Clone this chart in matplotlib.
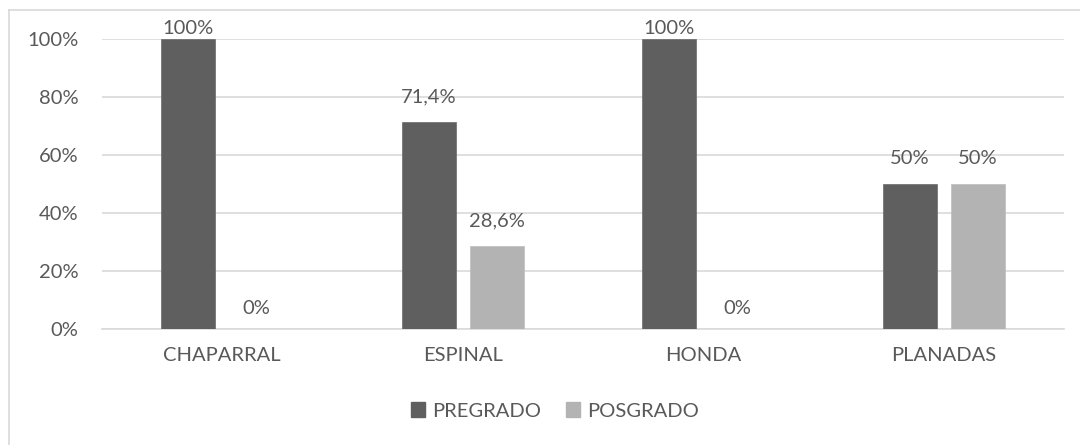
import matplotlib
matplotlib.use("Agg")
import matplotlib.pyplot as plt
from matplotlib.lines import Line2D
from matplotlib.patches import Patch
import numpy as np

categories = ["CHAPARRAL", "ESPINAL", "HONDA", "PLANADAS"]
pregrado = [100, 71.4, 100, 50]
posgrado = [0, 28.6, 0, 50]
pregrado_labels = ["100%", "71,4%", "100%", "50%"]
posgrado_labels = ["0%", "28,6%", "0%", "50%"]
yticks = [0, 20, 40, 60, 80, 100]
ytick_labels = ["0%", "20%", "40%", "60%", "80%", "100%"]

plt.rcParams['font.family'] = ['Lato', 'DejaVu Sans']
TXT = "#595959"
C_PRE = "#5f5f5f"
C_POS = "#b3b3b3"
GRID = "#d9d9d9"
FS = 14.5

W, H = 1080, 445
fig = plt.figure(figsize=(W/100, H/100), dpi=100)
ax = fig.add_axes([102/W, 1-329/H, (1064-102)/W, 290/H])

x = np.arange(len(categories))
bw = 0.2245
gap = 0.058
off = (bw + gap) / 2
ax.bar(x - off, pregrado, bw, color=C_PRE, edgecolor="#6a6a6a", linewidth=0.5, zorder=3)
ax.bar(x + off, posgrado, bw, color=C_POS, edgecolor="#bdbdbd", linewidth=0.5, zorder=3)

ax.set_xlim(-0.5, len(categories) - 0.5)
ax.set_ylim(0, 100)
ax.set_yticks(yticks)
ax.set_yticklabels(ytick_labels)
ax.set_xticks(x)
ax.set_xticklabels(categories)
ax.tick_params(axis='both', length=0, labelsize=FS, colors=TXT)
ax.tick_params(axis='y', pad=17)
ax.tick_params(axis='x', pad=13)
ax.yaxis.grid(True, color=GRID, linewidth=1.2, zorder=0)
ax.set_axisbelow(True)
for s in ["top", "right", "left"]:
    ax.spines[s].set_visible(False)
ax.spines["bottom"].set_color(GRID)
ax.spines["bottom"].set_linewidth(1.2)

# data labels: center ~25px above bar top, clamped at top of plot
px_per_unit = 290 / 100
def label(xpos, val, txt):
    yc = val + 25 / px_per_unit
    yc = min(yc, 100 + 10 / px_per_unit)
    if val == 0:
        yc = 21 / px_per_unit
    ax.text(xpos, yc, txt, ha="center", va="center", fontsize=FS, color=TXT,
            clip_on=False, zorder=4)

for i in range(len(categories)):
    label(x[i] - off, pregrado[i], pregrado_labels[i])
    label(x[i] + off, posgrado[i], posgrado_labels[i])

handles = [Patch(facecolor=C_PRE, edgecolor=C_PRE), Patch(facecolor=C_POS, edgecolor=C_POS)]
leg = fig.legend(handles, ["PREGRADO", "POSGRADO"], loc="center",
                 bbox_to_anchor=(555/W, 1 - 411/H), ncol=2, frameon=False,
                 fontsize=FS, handlelength=0.7, handleheight=0.7,
                 handletextpad=0.35, columnspacing=1.2)
for t in leg.get_texts():
    t.set_color(TXT)

# outer chart frame (top and left edges visible)
fig.add_artist(Line2D([9/W, 1.0], [1-10/H, 1-10/H], transform=fig.transFigure,
                      color=GRID, linewidth=1.2))
fig.add_artist(Line2D([9/W, 9/W], [0, 1-10/H], transform=fig.transFigure,
                      color=GRID, linewidth=1.2))

fig.savefig("out.png", dpi=100, facecolor="white")
